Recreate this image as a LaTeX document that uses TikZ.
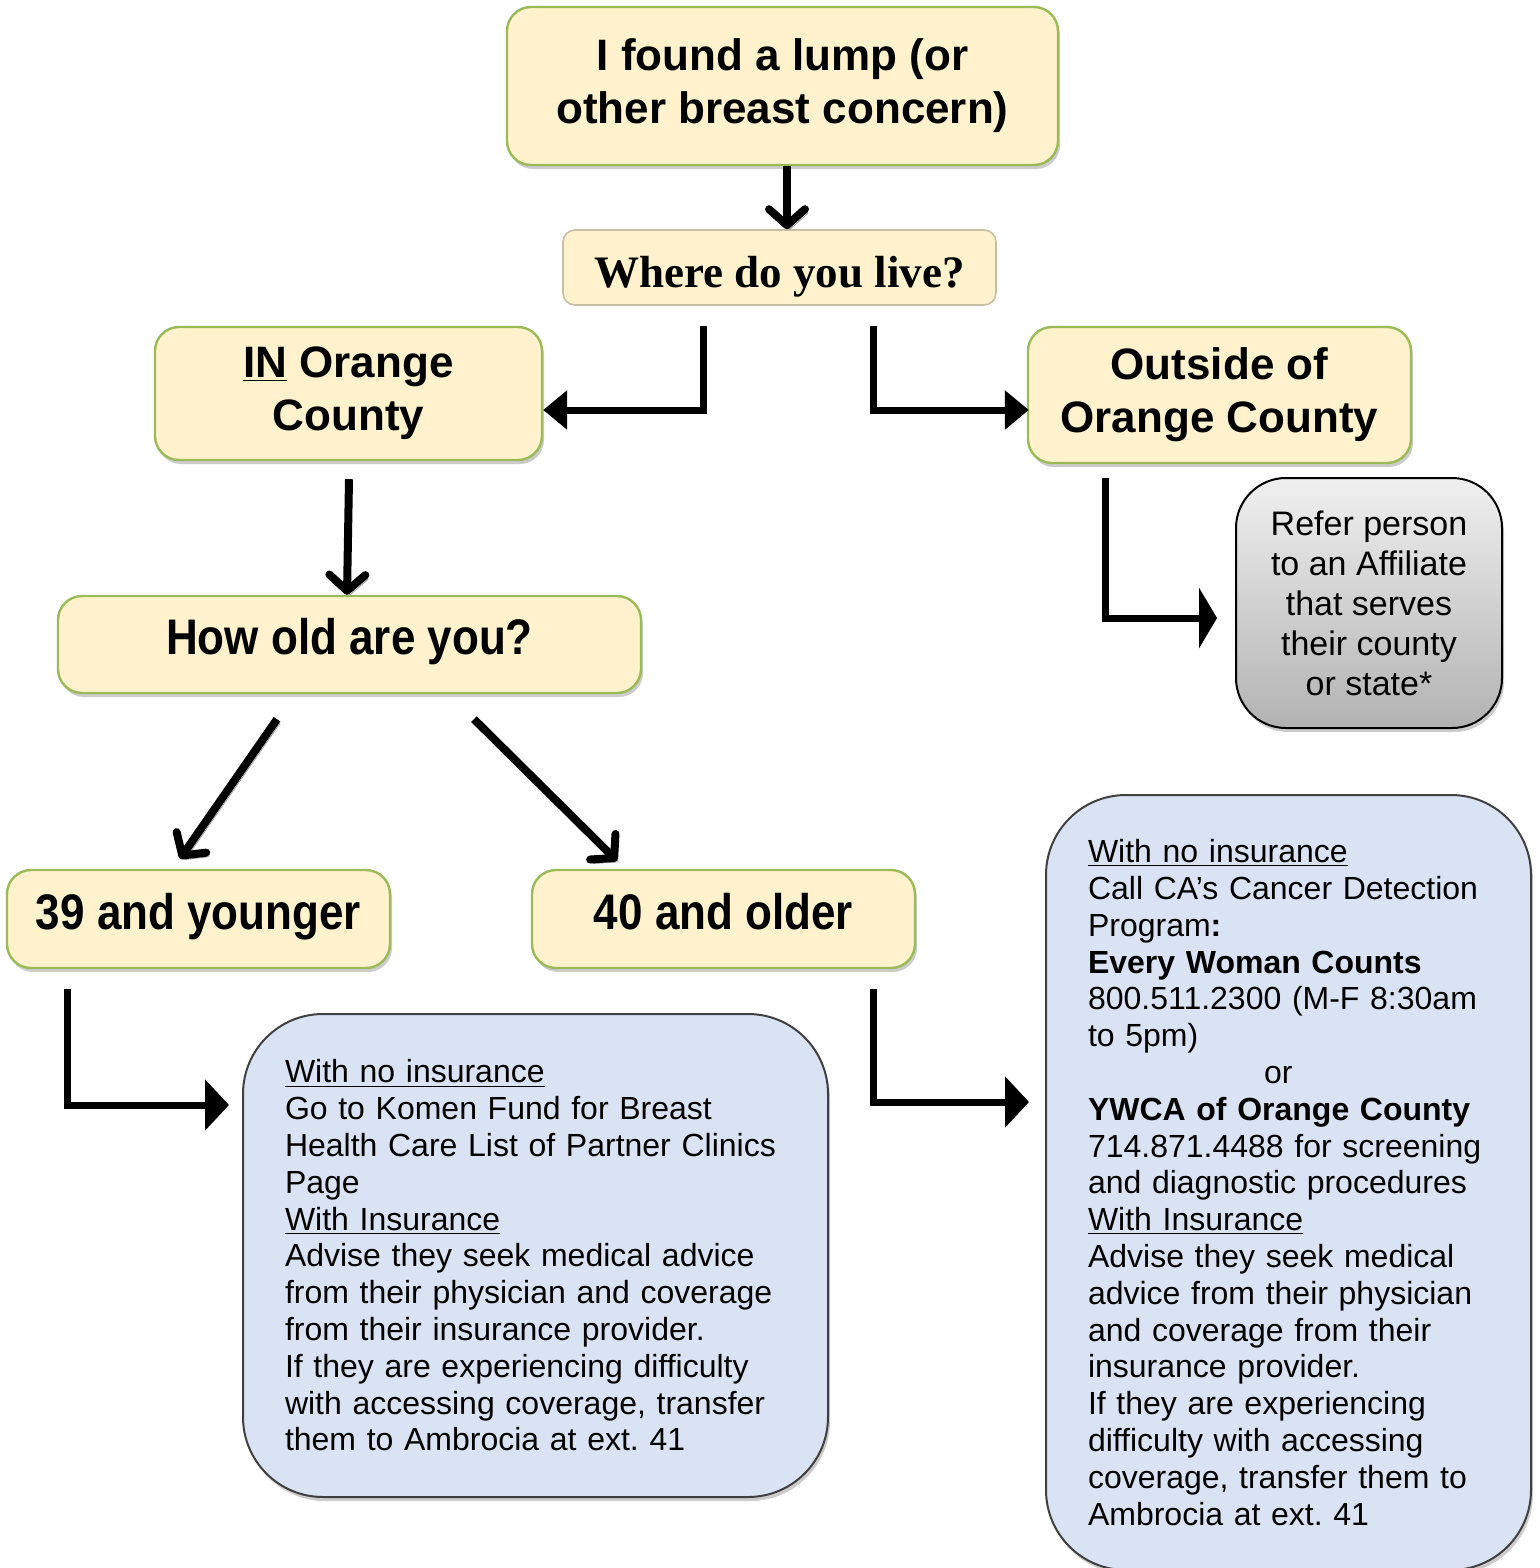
\documentclass[tikz,border=0pt]{standalone}
\usepackage{fontspec}
\setmainfont{Liberation Sans}
\newfontfamily\timesfont{Liberation Serif}
\newfontfamily\narrowfont[FakeStretch=0.88]{Liberation Sans}
\usetikzlibrary{arrows.meta,shadows,calc}
\definecolor{lumpfill}{RGB}{255,242,204}
\definecolor{lumpline}{RGB}{155,187,89}
\definecolor{whereline}{RGB}{200,190,165}
\definecolor{notefill}{RGB}{218,227,243}
\frenchspacing

\begin{document}
\begin{tikzpicture}[x=0.5pt,y=-0.5pt,
  yellowbox/.style={draw=lumpline,line width=1.2pt,fill=lumpfill,rounded corners=12pt,
    drop shadow={shadow xshift=1pt,shadow yshift=-2pt,fill=black!40},
    align=center,inner sep=0pt,font=\bfseries\fontsize{22}{26.5}\selectfont},
  agebox/.style={yellowbox,font=\narrowfont\bfseries\fontsize{25}{30}\selectfont,
    text height=18pt,text depth=8pt},
  notebox/.style={draw=black!75,line width=1pt,fill=notefill,rounded corners=40pt,
    drop shadow={shadow xshift=1pt,shadow yshift=-2pt,fill=black!40},
    align=left,inner xsep=21pt,inner ysep=0pt,font=\fontsize{16}{18.4}\selectfont},
  elbow/.style={line width=3.5pt,-{Triangle[length=12pt,width=19pt]}},
  chev/.style={line width=4pt,-{Straight Barb[length=8pt,width=18pt,round]},
    preaction={draw=black!40,transform canvas={shift={(1.5pt,-2pt)}}}}]

\useasboundingbox (0,0) rectangle (1540,1568);

\node[yellowbox,minimum width=275.5pt,minimum height=79pt] (lump) at (782.5,86)
  {I found a lump (or\\other breast concern)};
\node[draw=whereline,line width=0.8pt,fill=lumpfill,rounded corners=6pt,
  minimum width=216.5pt,minimum height=37.5pt,inner sep=0pt,text height=19.5pt,text depth=0pt,
  font=\timesfont\bfseries\fontsize{22.5}{26}\selectfont] (where) at (779.5,267.5) {Where do you live?};
\node[yellowbox,minimum width=193.5pt,minimum height=66.5pt] (inoc) at (348.5,393.5)
  {\underline{IN} Orange\\County};
\node[yellowbox,minimum width=191.5pt,minimum height=68pt] (outoc) at (1219.5,395)
  {Outside of\\Orange County};
\node[draw=black,line width=1pt,rounded corners=25pt,top color=black!6,bottom color=black!30,
  drop shadow={shadow xshift=1pt,shadow yshift=-2pt,fill=black!40},
  minimum width=133pt,minimum height=125pt,align=center,inner sep=0pt,
  font=\fontsize{17}{20}\selectfont] (refer) at (1369,603)
  {Refer person\\to an Affiliate\\that serves\\their county\\or state*};
\node[agebox,minimum width=291.5pt,minimum height=48.5pt] (howold) at (349.5,644.5) {How old are you?};
\node[agebox,minimum width=191.5pt,minimum height=49pt] (young) at (198.5,919) {39 and younger};
\node[agebox,minimum width=191.5pt,minimum height=49pt] (older) at (723.5,919) {40 and older};

\node[notebox,text width=250.5pt,minimum height=241.5pt] (nohelp) at (535.5,1255.5)
  {\underline{With no insurance}\\
  Go to Komen Fund for Breast\\
  Health Care List of Partner Clinics\\
  Page\\
  \underline{With Insurance}\\
  Advise they seek medical advice\\
  from their physician and coverage\\
  from their insurance provider.\\
  If they are experiencing difficulty\\
  with accessing coverage, transfer\\
  them to Ambrocia at ext. 41};
\node[notebox,text width=200.5pt,minimum height=387.5pt] (ywca) at (1288.5,1182.5)
  {\underline{With no insurance}\\
  Call CA’s Cancer Detection\\
  Program\textbf{:}\\
  \textbf{Every Woman Counts}\\
  800.511.2300 (M-F 8:30am\\
  to 5pm)\\
  \hspace*{88pt}or\\
  \textbf{YWCA of Orange County}\\
  714.871.4488 for screening\\
  and diagnostic procedures\\
  \underline{With Insurance}\\
  Advise they seek medical\\
  advice from their physician\\
  and coverage from their\\
  insurance provider.\\
  If they are experiencing\\
  difficulty with accessing\\
  coverage, transfer them to\\
  Ambrocia at ext. 41};

\draw[chev] ($(lump.south)+(4.5,0)$) -- ($(where.north)+(7.5,0)$);
\draw[elbow] ($(where.south)+(-76.5,20)$) |- ($(inoc.east)+(0,16.5)$);
\draw[elbow] ($(where.south)+(93.5,20)$) |- ($(outoc.west)+(2,15)$);
\draw[chev] ($(inoc.south)+(0.5,18)$) -- ($(howold.north)+(-2.5,0)$);
\draw[chev] ($(howold.south)+(-72.5,25)$) -- ($(young.north)+(-18.5,-10)$);
\draw[chev] ($(howold.south)+(124.5,25)$) -- ($(older.north)+(-106.5,-8)$);
\draw[elbow,-{Triangle[length=9pt,width=30pt]}] ($(outoc.south)+(-114.5,14)$) |- ($(refer.west)+(-18,15)$);
\draw[elbow,-{Triangle[length=12pt,width=25pt]}] ($(young.south)+(-131.5,20)$) |- ($(nohelp.west)+(-13,-150.5)$);
\draw[elbow,-{Triangle[length=12pt,width=25pt]}] ($(older.south)+(149.5,20)$) |- ($(ywca.west)+(-16,-80.5)$);

\end{tikzpicture}
\end{document}
